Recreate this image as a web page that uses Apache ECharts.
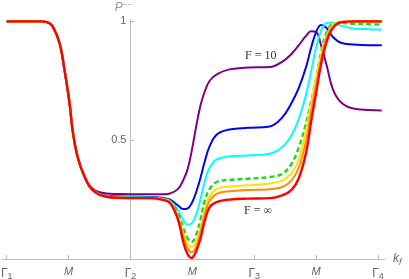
<!DOCTYPE html>
<html>
<head>
<meta charset="utf-8">
<script src="https://cdn.jsdelivr.net/npm/echarts@6/dist/echarts.min.js"></script>
<style>html,body{margin:0;padding:0;background:#fff}#c{width:409px;height:279px}</style>
</head>
<body>
<div id="c"></div>
<script>
// k_f positions (Γ1 = 0, M = 1, Γ2 = 2, M = 3, Γ3 = 4, M = 5, Γ4 = 6)
const kf = [0,0.3,0.55,0.65,0.74,0.855,0.935,1.016,1.065,1.145,1.26,1.39,1.61,2.0,2.32,2.5,2.64,2.77,2.85,2.92,2.99,3.06,3.13,3.2,3.28,3.4,3.6,3.9,4.25,4.45,4.6,4.72,4.84,4.92,5.0,5.08,5.17,5.27,5.4,5.6,5.85,6.06];
const common = [1,1,1,0.997,0.98,0.907,0.794,0.655,0.542,0.43,0.345,0.29];
const pF10 = [1,1,1,0.997,0.98,0.907,0.794,0.655,0.542,0.43,0.348,0.295,
  0.276,0.273,0.272,0.272,0.276,0.295,0.33,0.375,0.455,0.555,0.645,0.705,0.75,0.778,0.798,0.806,0.808,0.83,0.862,0.9,0.94,0.958,0.955,0.9,0.815,0.715,0.66,0.633,0.627,0.625];
const pBlue = common.concat([0.266,0.262,0.261,0.258,0.25,0.225,0.21,0.212,0.235,0.28,0.34,0.41,0.475,0.525,0.545,0.552,0.558,0.595,0.655,0.72,0.81,0.89,0.955,0.985,0.972,0.935,0.91,0.903,0.9,0.9]);
const pCyan = common.concat([0.265,0.26,0.259,0.255,0.245,0.205,0.165,0.145,0.15,0.185,0.25,0.325,0.385,0.42,0.432,0.436,0.443,0.47,0.52,0.59,0.695,0.79,0.89,0.96,0.993,0.995,0.982,0.97,0.967,0.966]);
const pGreen = common.concat([0.264,0.258,0.257,0.254,0.242,0.19,0.135,0.088,0.072,0.1,0.165,0.245,0.295,0.325,0.333,0.338,0.345,0.358,0.4,0.47,0.575,0.665,0.76,0.87,0.955,0.99,0.993,0.99,0.988,0.987]);
const pYellow = common.concat([0.263,0.257,0.256,0.253,0.24,0.175,0.11,0.065,0.05,0.07,0.13,0.205,0.265,0.295,0.305,0.31,0.318,0.33,0.36,0.42,0.545,0.655,0.76,0.86,0.94,0.985,0.998,1.0,1.0,1.0]);
const pOrange = common.concat([0.262,0.256,0.256,0.252,0.238,0.17,0.095,0.045,0.028,0.05,0.11,0.185,0.245,0.275,0.285,0.29,0.294,0.303,0.33,0.385,0.5,0.62,0.73,0.84,0.93,0.978,0.997,1.0,1.0,1.0]);
const pInf = common.concat([0.262,0.256,0.256,0.25,0.235,0.164,0.075,0.022,0.004,0.032,0.085,0.16,0.218,0.24,0.25,0.254,0.256,0.268,0.29,0.34,0.45,0.58,0.7,0.82,0.915,0.972,0.996,1.0,1.0,1.0]);
const xTickPos = [0,1,2,3,4,5,6];
const xTickLabels = ['{g|Γ}{s|1}','{m|M}','{g|Γ}{s|2}','{m|M}','{g|Γ}{s|3}','{m|M}','{g|Γ}{s|4}'];
const yTickPos = [0.5,1];
const yTickLabels = ['0.5','1'];
const X0 = 2; // Γ2, where the vertical axis sits

const seriesDefs = [
  {name:'F=10', data:pF10, color:'#800080', width:2},
  {name:'b', data:pBlue, color:'#0000ff', width:2},
  {name:'c', data:pCyan, color:'#00ffff', width:2},
  {name:'g', data:pGreen, color:'#22d422', width:2.4, dash:[5,3]},
  {name:'y', data:pYellow, color:'#ffe000', width:2},
  {name:'o', data:pOrange, color:'#ff8c00', width:2},
  {name:'F=inf', data:pInf, color:'#ff0000', width:2.4}
];

const W = 409, GL = 2, GR = 24;
const XMIN = -0.076, XMAX = 6.113;
const yAxisOffset = -((X0 - XMIN) / (XMAX - XMIN)) * (W - GL - GR);

const chart = echarts.init(document.getElementById('c'), null, {renderer:'canvas'});
chart.setOption({
  animation:false,
  backgroundColor:'#fff',
  grid:{left:GL, right:GR, top:19, bottom:20, containLabel:false, outerBoundsMode:'none'},
  xAxis:{
    type:'value', min:XMIN, max:XMAX,
    axisLine:{onZero:false, lineStyle:{color:'#bbb', width:1}},
    axisTick:{inside:true, length:4, lineStyle:{color:'#bbb'}, customValues:xTickPos},
    axisLabel:{customValues:xTickPos, margin:7, hideOverlap:false,
      formatter:(v)=>xTickLabels[xTickPos.indexOf(Math.round(v))],
      rich:{
        g:{fontFamily:'Liberation Sans', fontSize:12, color:'#666'},
        s:{fontFamily:'Liberation Sans', fontSize:9, color:'#666', padding:[6,0,0,0]},
        m:{fontFamily:'Liberation Sans', fontSize:11, fontStyle:'italic', color:'#666'}
      }},
    splitLine:{show:false},
    name:'{k|k}{f|f}', nameLocation:'end', nameGap:8,
    nameTextStyle:{rich:{
      k:{fontFamily:'Liberation Sans', fontSize:12, fontStyle:'italic', color:'#666'},
      f:{fontFamily:'Liberation Sans', fontSize:9, fontStyle:'italic', color:'#666', padding:[6,0,0,0]}
    }}
  },
  yAxis:{
    type:'value', min:0, max:1.01, position:'left', offset:yAxisOffset,
    axisLine:{onZero:false, lineStyle:{color:'#bbb', width:1}},
    axisTick:{inside:true, length:4, lineStyle:{color:'#bbb'}, customValues:yTickPos},
    axisLabel:{customValues:yTickPos, margin:4, fontFamily:'Liberation Sans', fontSize:11, color:'#666',
      formatter:(v)=>yTickLabels[yTickPos.indexOf(v)]},
    splitLine:{show:false},
    name:'{p|P}{s|−−}', nameLocation:'end', nameGap:4,
    nameTextStyle:{align:'center', padding:[0,14,0,0], rich:{
      p:{fontFamily:'Liberation Sans', fontSize:12, fontStyle:'italic', color:'#999'},
      s:{fontFamily:'Liberation Sans', fontSize:8, color:'#999', padding:[0,0,6,0]}
    }}
  },
  series: seriesDefs.map(s=>({
    type:'line', name:s.name, showSymbol:false, smooth:0.4,
    data: kf.map((x,i)=>[x, s.data[i]]),
    lineStyle:{color:s.color, width:s.width, type: s.dash ? s.dash : 'solid', cap:'butt'},
    itemStyle:{color:s.color}, silent:true
  })),
  graphic:[
    {type:'text', left:245, top:50, style:{text:'F = 10', font:'12px "Liberation Serif"', fill:'#333'}},
    {type:'text', left:244, top:205, style:{text:'F = ∞', font:'12px "Liberation Serif"', fill:'#333'}}
  ]
});
</script>
</body>
</html>
